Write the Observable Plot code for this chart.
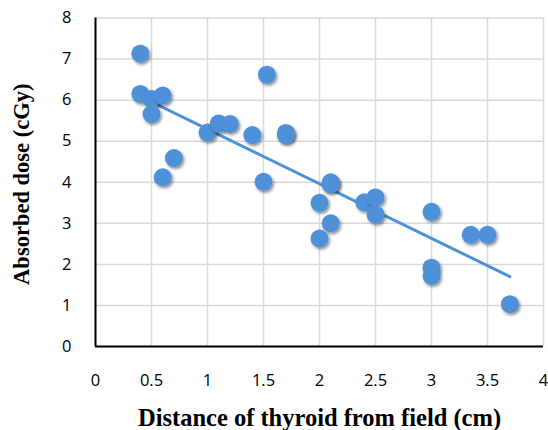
<!DOCTYPE html>
<html>
<head>
<meta charset="utf-8">
<script src="https://cdn.jsdelivr.net/npm/d3@7"></script>
<script src="https://cdn.jsdelivr.net/npm/@observablehq/plot@0.6"></script>
<style>
  html, body { margin: 0; padding: 0; background: #fff; }
</style>
</head>
<body>
<div id="chart"></div>
<script>
const distance = [0.4, 0.4, 0.5, 0.6, 0.5, 0.7, 0.6, 1.0, 1.1, 1.2, 1.4, 1.53, 1.7, 1.7, 1.5, 2.1, 2.1, 2.0, 2.1, 2.0, 2.4, 2.5, 2.5, 3.0, 3.0, 3.0, 3.35, 3.5, 3.7];
const dose     = [7.13, 6.15, 6.03, 6.11, 5.66, 4.59, 4.12, 5.21, 5.43, 5.42, 5.15, 6.62, 5.2, 5.15, 4.01, 4.0, 3.95, 3.5, 3.0, 2.63, 3.51, 3.63, 3.21, 3.28, 1.92, 1.72, 2.72, 2.72, 1.03];
const xTicks = [0, 0.5, 1, 1.5, 2, 2.5, 3, 3.5, 4];
const yTicks = [0, 1, 2, 3, 4, 5, 6, 7, 8];
const xTitle = "Distance of thyroid from field (cm)";
const yTitle = "Absorbed dose (cGy)";

const data = distance.map((d, i) => ({x: d, y: dose[i]}));
const blue = "#4f91d9";

const chart = Plot.plot({
  width: 548,
  height: 430,
  marginLeft: 95,
  marginRight: 5,
  marginTop: 17.5,
  marginBottom: 84,
  style: {fontFamily: "'Open Sans', sans-serif", fontSize: "16.5px", color: "#000", background: "#fff"},
  x: {domain: [0, 4]},
  y: {domain: [0, 8]},
  marks: [
    Plot.gridX(xTicks, {stroke: "#d9d9d9", strokeOpacity: 1, strokeWidth: 1.5}),
    Plot.gridY(yTicks, {stroke: "#d9d9d9", strokeOpacity: 1, strokeWidth: 1.5}),
    Plot.axisX({ticks: xTicks, tickSize: 0, tickPadding: 28, label: null, tickFormat: d => String(d), fontSize: 16.5}),
    Plot.axisY({ticks: yTicks, tickSize: 0, tickPadding: 24, label: null, tickFormat: d => String(d), fontSize: 16.5}),
    Plot.ruleX([0], {stroke: "#000", strokeWidth: 2}),
    Plot.ruleY([0], {stroke: "#000", strokeWidth: 2}),
    Plot.linearRegressionY(data, {x: "x", y: "y", stroke: blue, strokeWidth: 3, ci: 0}),
    Plot.dot(data, {x: "x", y: "y", r: 9, fill: blue, stroke: "none"}),
    Plot.text([xTitle], {frameAnchor: "bottom", lineAnchor: "middle", dy: 71.5, fontFamily: "'Liberation Serif', serif", fontWeight: "bold", fontSize: 24.5, fill: "#000"}),
    Plot.text([yTitle], {frameAnchor: "left", textAnchor: "middle", lineAnchor: "middle", dx: -74, dy: 2, rotate: -90, fontFamily: "'Liberation Serif', serif", fontWeight: "bold", fontSize: 22.5, fill: "#000"})
  ]
});

// soft drop shadow on markers, like the reference
const svg = d3.select(chart);
const defs = svg.insert("defs", ":first-child");
const f = defs.append("filter").attr("id", "sh").attr("x", "-50%").attr("y", "-50%").attr("width", "200%").attr("height", "200%");
f.append("feDropShadow").attr("dx", 1.5).attr("dy", 2).attr("stdDeviation", 1.8).attr("flood-color", "#000").attr("flood-opacity", 0.45);
svg.selectAll("g[aria-label='dot'] circle").attr("filter", "url(#sh)");
document.getElementById("chart").appendChild(chart);
</script>
</body>
</html>
